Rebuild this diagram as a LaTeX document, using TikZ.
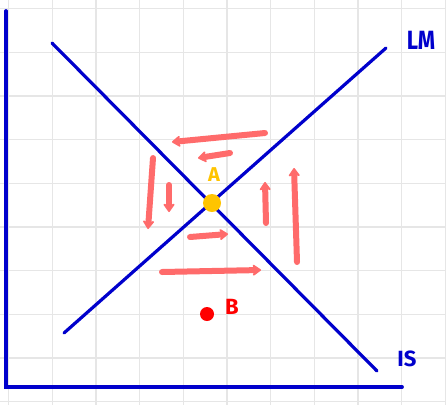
\documentclass[tikz,border=0pt]{standalone}
\usepackage{fontspec}
\setmainfont{Fira Sans}
\usetikzlibrary{arrows.meta}
\definecolor{penblue}{HTML}{0000CC}
\definecolor{salmon}{HTML}{FF6B6B}
\definecolor{gold}{HTML}{FFC400}
\definecolor{gridgray}{HTML}{E6E6E6}
\tikzset{
  curve/.style={draw=penblue, line width=3.2pt, line cap=round},
  axisline/.style={draw=penblue, line width=3.8pt, line cap=round},
  flow/.style={draw=salmon, line width=6pt, line cap=round, -{Stealth[length=10pt,width=14pt,round]}},
  hand/.style={font=\fontsize{22}{22}\selectfont\bfseries, inner sep=0pt},
  dot/.style={circle, inner sep=0pt, minimum size=#1},
}
\begin{document}
\begin{tikzpicture}[x=1pt,y=-1pt]
\useasboundingbox (0,0) rectangle (446,405);
\fill[white] (0,0) rectangle (446,405);
% grid
\foreach \g in {8.5,52.2,95.9,139.6,183.3,227,270.7,314.4,358.1,401.8,445.5}{
  \draw[gridgray, line width=1.3pt] (\g,0) -- (\g,405);
  \draw[gridgray, line width=1.3pt] (0,\g) -- (446,\g);
}
% axes
\coordinate (ytop) at (6,11);
\coordinate (origin) at (6,387);
\coordinate (xend) at (402,387);
\draw[axisline] (ytop) -- (origin) -- (xend);
% curves
\coordinate (is1) at (52,43);
\coordinate (is2) at (377,371);
\coordinate (lm1) at (64,333);
\coordinate (lm2) at (386,48);
\draw[curve] (is1) -- (is2);
\draw[curve] (lm1) -- (lm2);
\node[hand, text=penblue, yscale=1.2] (LM) at (421,40) {LM};
\node[hand, text=penblue] (IS) at (407,359) {IS};
% points
\node[dot=18pt, fill=gold] (A) at (212,203) {};
\node[hand, text=gold, font=\fontsize{20}{20}\selectfont\bfseries] (Alab) at (214,175) {A};
\node[dot=14pt, fill=red] (B) at (207,314) {};
\node[hand, text=red] (Blab) at (232,307) {B};
% arrows
\coordinate (a1s) at (265,133); \coordinate (a1e) at (172,142);
\coordinate (a2s) at (230,153); \coordinate (a2e) at (198,158);
\coordinate (a3s) at (153,158); \coordinate (a3e) at (148,229);
\coordinate (a4s) at (169,185); \coordinate (a4e) at (169,212);
\coordinate (a5s) at (266,223); \coordinate (a5e) at (265,182);
\coordinate (a6s) at (297,262); \coordinate (a6e) at (294,168);
\coordinate (a7s) at (190,237); \coordinate (a7e) at (228,234);
\coordinate (a8s) at (162,272); \coordinate (a8e) at (261,270);
\draw[flow] (a1s) -- (a1e);
\draw[flow] (a2s) -- (a2e);
\draw[flow] (a3s) -- (a3e);
\draw[flow] (a4s) -- (a4e);
\draw[flow] (a5s) -- (a5e);
\draw[flow] (a6s) -- (a6e);
\draw[flow] (a7s) -- (a7e);
\draw[flow] (a8s) -- (a8e);
\end{tikzpicture}
\end{document}
